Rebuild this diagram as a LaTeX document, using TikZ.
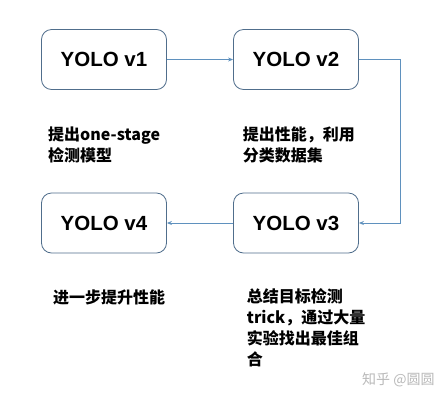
\documentclass[tikz,border=0pt]{standalone}
\usepackage{fontspec}
\setmainfont{Liberation Sans}
\newfontfamily\cjk{Noto Sans CJK SC}
\usetikzlibrary{arrows.meta}
\definecolor{boxline}{RGB}{80,110,140}
\definecolor{arrline}{RGB}{95,145,190}
\definecolor{wm}{RGB}{185,185,185}
\begin{document}
\begin{tikzpicture}[x=1pt,y=-1pt,
  ybox/.style={draw=boxline,line width=0.8pt,rounded corners=10pt,minimum width=125pt,minimum height=60pt,inner sep=0pt,font=\fontsize{20.5}{24}\selectfont\bfseries},
  arr/.style={draw=arrline,line width=0.9pt,-{Stealth[length=5pt,width=4pt]}},
  desc/.style={anchor=north west,inner sep=0pt,align=left,font=\cjk\bfseries\fontsize{16}{21}\selectfont}]
\fill[white] (0,0) rectangle (442,400);
\useasboundingbox (0,0) rectangle (442,400);
\node[ybox] (v1) at (104,59.5) {YOLO v1};
\node[ybox] (v2) at (296,59.5) {YOLO v2};
\node[ybox] (v3) at (296,223) {YOLO v3};
\node[ybox] (v4) at (104,223) {YOLO v4};
\coordinate (c1) at (400.5,59.5);
\draw[arr] (v1.east) -- (v2.west);
\draw[arr] (v2.east) -- (c1) |- (v3.east);
\draw[arr] (v3.west) -- (v4.east);
\node[desc] (t1) at (48,126.5) {提出one-stage\\检测模型};
\node[desc] (t2) at (242.7,126.5) {提出性能，利用\\分类数据集};
\node[desc] (t3) at (246.7,288.5) {总结目标检测\\trick，通过大量\\实验找出最佳组\\合};
\node[desc] (t4) at (53,290) {进一步提升性能};
\node[anchor=west,inner sep=0pt,text=wm,font=\cjk\fontsize{14}{16}\selectfont] (wmk) at (362,380) {知乎 @圆圆};
\end{tikzpicture}
\end{document}
